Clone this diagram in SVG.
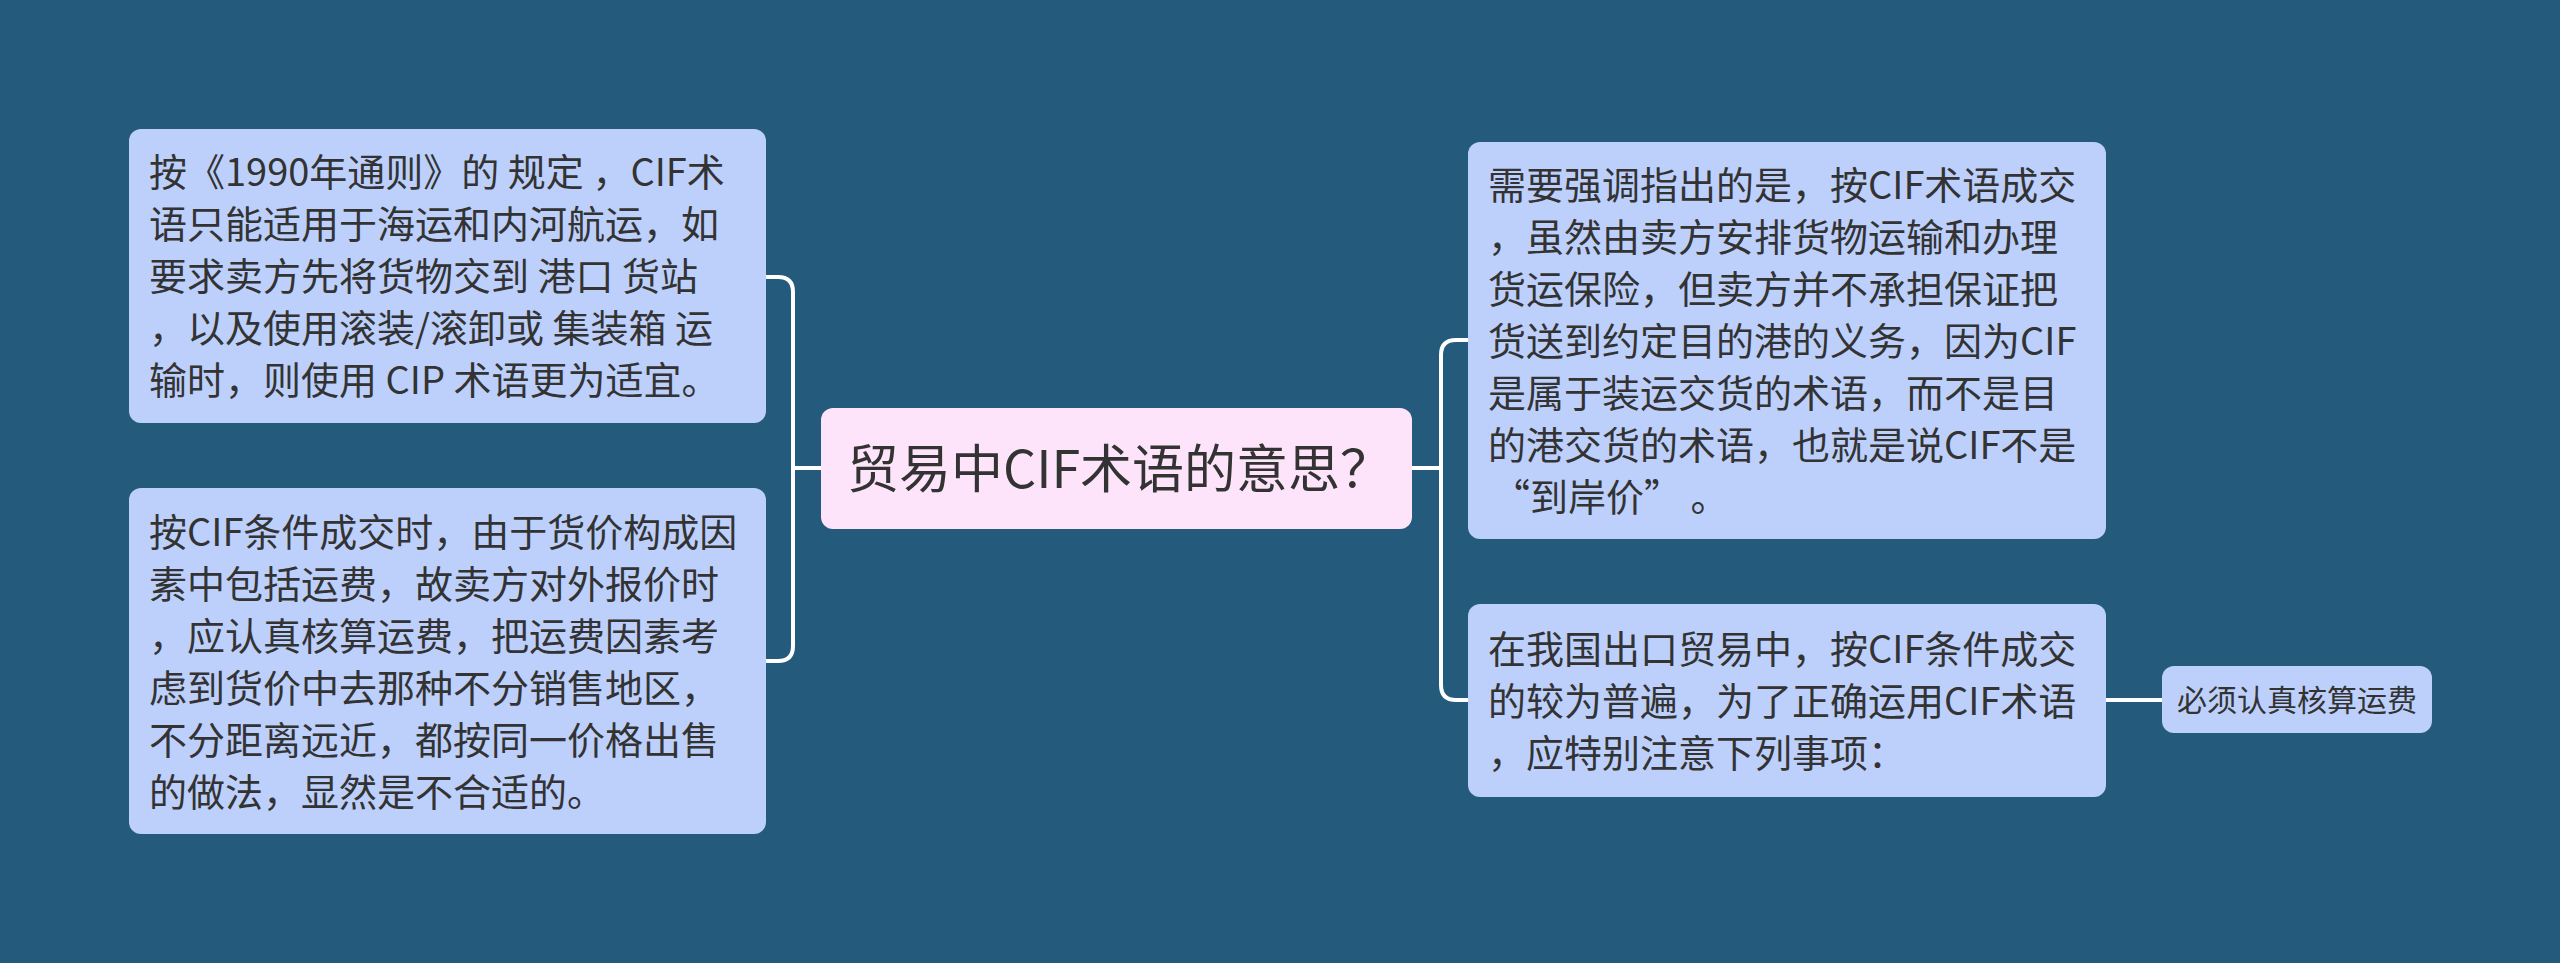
<svg xmlns="http://www.w3.org/2000/svg" width="2560" height="963" viewBox="0 0 2560 963">
<style>
.bg{fill:#245a7b}
.node{fill:#bdd0fc}
.root{fill:#fde4fb}
.t{font-family:"Noto Sans CJK SC","Noto Sans",sans-serif;fill:#333333;white-space:pre}
.tn{font-size:38px}
.tr{font-size:52px}
.ts{font-size:30px}
.conn{fill:none;stroke:#ffffff;stroke-width:4;stroke-linecap:round}
</style>
<rect class="bg" x="0" y="0" width="2560" height="963"/>
<g id="connectors">
<path class="conn" d="M 821 468 H 793"/>
<path class="conn" d="M 766 277 H 778 Q 793 277 793 292 V 646 Q 793 661 778 661 H 766"/>
<path class="conn" d="M 1412 468 H 1441"/>
<path class="conn" d="M 1468 340 H 1456 Q 1441 340 1441 355 V 685 Q 1441 700 1456 700 H 1468"/>
<path class="conn" d="M 2106 700 H 2162"/>
</g>
<g id="root">
<rect class="root" x="821" y="408" width="591" height="121" rx="12"/>
<text class="t tr" x="847" y="488">贸易中CIF术语的意思？</text>
</g>
<g id="left1">
<rect class="node" x="129" y="129" width="637" height="294" rx="12"/>
<text class="t tn">
<tspan x="149" y="186">按《1990年通则》的 规定 ，CIF术</tspan>
<tspan x="149" y="238">语只能适用于海运和内河航运，如</tspan>
<tspan x="149" y="290">要求卖方先将货物交到 港口 货站</tspan>
<tspan x="149" y="342">，以及使用滚装/滚卸或 集装箱 运</tspan>
<tspan x="149" y="394">输时，则使用 CIP 术语更为适宜。</tspan>
</text>
</g>
<g id="left2">
<rect class="node" x="129" y="488" width="637" height="346" rx="12"/>
<text class="t tn">
<tspan x="149" y="546">按CIF条件成交时，由于货价构成因</tspan>
<tspan x="149" y="598">素中包括运费，故卖方对外报价时</tspan>
<tspan x="149" y="650">，应认真核算运费，把运费因素考</tspan>
<tspan x="149" y="702">虑到货价中去那种不分销售地区，</tspan>
<tspan x="149" y="754">不分距离远近，都按同一价格出售</tspan>
<tspan x="149" y="806">的做法，显然是不合适的。</tspan>
</text>
</g>
<g id="right1">
<rect class="node" x="1468" y="142" width="638" height="397" rx="12"/>
<text class="t tn">
<tspan x="1488" y="199">需要强调指出的是，按CIF术语成交</tspan>
<tspan x="1488" y="251">，虽然由卖方安排货物运输和办理</tspan>
<tspan x="1488" y="303">货运保险，但卖方并不承担保证把</tspan>
<tspan x="1488" y="355">货送到约定目的港的义务，因为CIF</tspan>
<tspan x="1488" y="407">是属于装运交货的术语，而不是目</tspan>
<tspan x="1488" y="459">的港交货的术语，也就是说CIF不是</tspan>
<tspan x="1492" y="511">“到岸价” 。</tspan>
</text>
</g>
<g id="right2">
<rect class="node" x="1468" y="604" width="638" height="193" rx="12"/>
<text class="t tn">
<tspan x="1488" y="663">在我国出口贸易中，按CIF条件成交</tspan>
<tspan x="1488" y="715">的较为普遍，为了正确运用CIF术语</tspan>
<tspan x="1488" y="767">，应特别注意下列事项：</tspan>
</text>
</g>
<g id="leaf">
<rect class="node" x="2162" y="666" width="270" height="67" rx="12"/>
<text class="t ts" x="2177" y="711">必须认真核算运费</text>
</g>
</svg>
